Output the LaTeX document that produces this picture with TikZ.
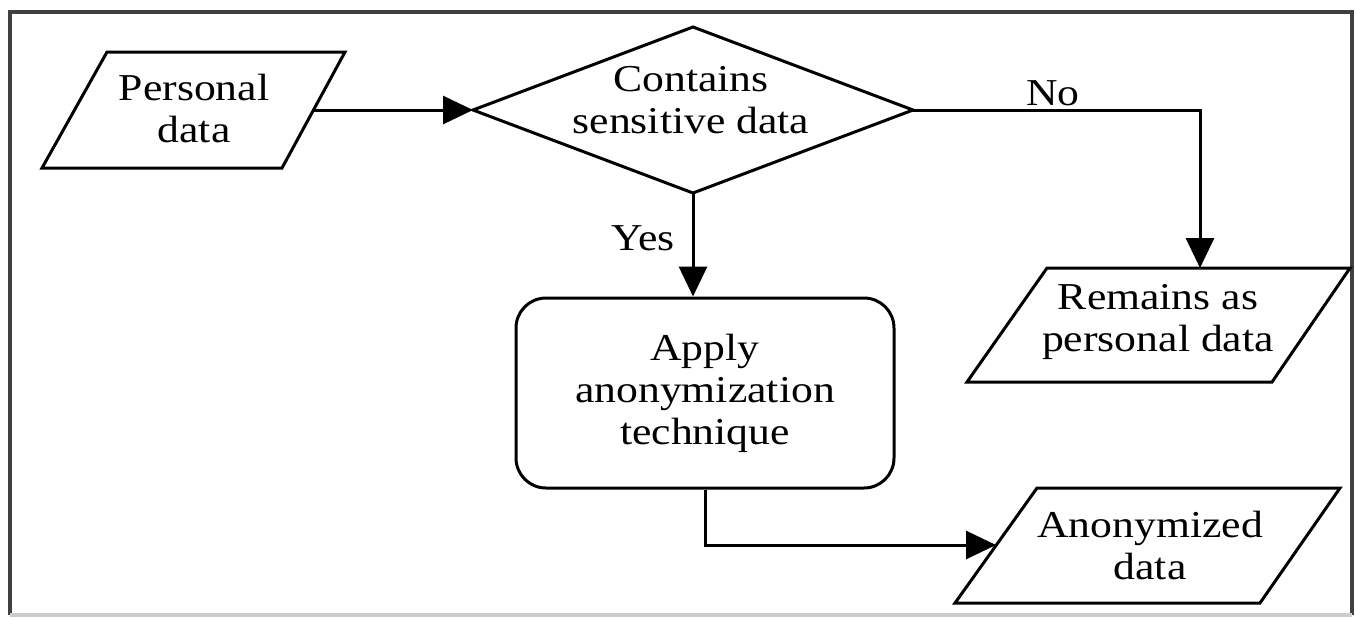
\documentclass[tikz,border=0pt]{standalone}
\usepackage{fontspec}
\newfontfamily\dfont[FakeStretch=1.15]{Liberation Serif}
\usetikzlibrary{arrows.meta}
\begin{document}
\begin{tikzpicture}[x=0.5pt,y=-0.5pt,
  shp/.style={draw=black, line width=1.5pt, line join=miter},
  txt/.style={align=center, inner sep=0pt, font=\dfont\fontsize{19pt}{21pt}\selectfont},
  arr/.style={draw=black, line width=1.5pt, -{Triangle[length=15pt,width=14pt]}},
  frm/.style={draw=black!75, line width=1.6pt}]
\useasboundingbox (0,0) rectangle (1356,617);
% frame
\draw[frm] (10,615) -- (10,12) -- (1352,12) -- (1352,615);
\draw[draw=black!20, line width=1.6pt] (10,615) -- (1352,615);
% Personal data
\draw[shp] (107,52) -- (345,52) -- (282,168) -- (42,168) -- cycle;
\node[txt] (pd) at (194,108) {Personal\\data};
\coordinate (pdR) at (314,110);
% decision diamond
\draw[shp] (473,110) -- (693,27) -- (913,110) -- (693,193) -- cycle;
\node[txt] (dec) at (691,100) {Contains\\sensitive data};
\coordinate (decW) at (473,110);
\coordinate (decE) at (913,110);
\coordinate (decS) at (693,193);
% apply box
\node[shp, txt, rounded corners=15pt, minimum width=189pt, minimum height=95pt] (app) at (705,393) {Apply\\anonymization\\technique};
% Remains as personal data
\draw[shp] (1047,268) -- (1350,268) -- (1272,382) -- (967,382) -- cycle;
\node[txt] (rem) at (1158,322) {Remains as\\personal data};
\coordinate (remN) at (1200,268);
% Anonymized data
\draw[shp] (1037,488) -- (1340,488) -- (1260,603) -- (955,603) -- cycle;
\node[txt] (ano) at (1150,545) {Anonymized\\data};
\coordinate (anoW) at (996,545);
% connectors
\draw[arr] (pdR) -- (decW);
\draw[arr] (decE) -- (decE -| remN) -- (remN);
\draw[arr] (decS) -- (decS |- app.north);
\draw[arr] (app.south) -- (app.south |- anoW) -- (anoW);
% labels
\node[txt] (no) at (1053,93) {No};
\node[txt] (yes) at (643,238) {Yes};
\end{tikzpicture}
\end{document}
